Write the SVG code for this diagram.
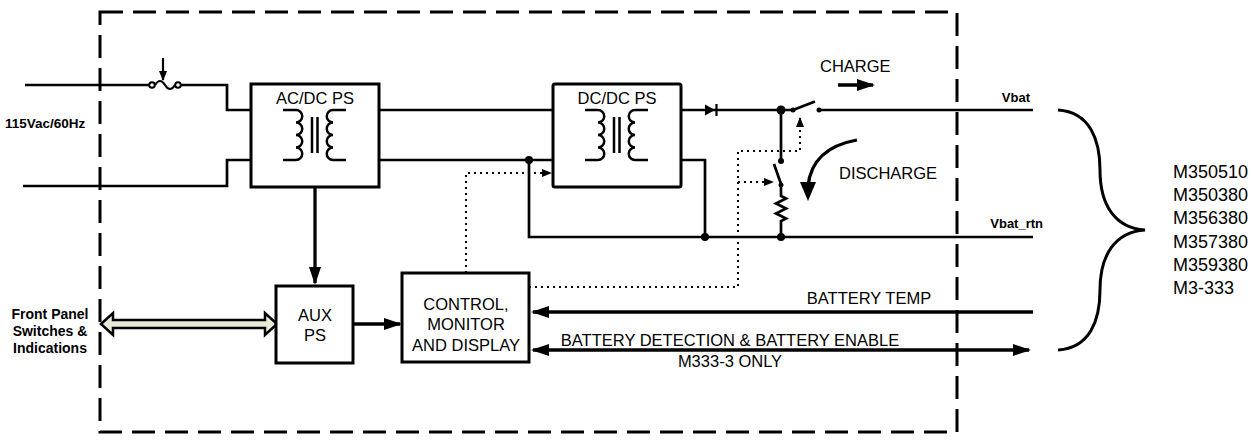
<svg xmlns="http://www.w3.org/2000/svg" width="1251" height="440" viewBox="0 0 1251 440">
<defs>
<style>
text{font-family:"Liberation Sans",Arial,sans-serif;fill:#000}
.t{font-size:16.5px}
.c{text-anchor:middle}
.b{font-weight:bold;font-size:13.5px}
.w{fill:none;stroke:#000;stroke-width:2.7}
.box{fill:#fff;stroke:#000;stroke-width:3}
.dt{fill:none;stroke:#000;stroke-width:2;stroke-dasharray:2 4}
.ar{fill:none;stroke:#000;stroke-width:3.3}
.jn{fill:#000}
.ct{fill:#fff;stroke:#000;stroke-width:2}
</style>
<marker id="ah" viewBox="0 0 18 12" refX="16" refY="6" markerWidth="18" markerHeight="12" markerUnits="userSpaceOnUse" orient="auto-start-reverse"><path d="M0,0 L18,6 L0,12 z"/></marker>
<marker id="sh" viewBox="0 0 10 8" refX="9" refY="4" markerWidth="10" markerHeight="8" markerUnits="userSpaceOnUse" orient="auto"><path d="M0,0 L10,4 L0,8 z"/></marker>
<g id="xf" fill="none" stroke="#000" stroke-width="2.5">
<path d="M283,110 H296 a6.25,6.25 0 0 1 0,12.5 a6.25,6.25 0 0 1 0,12.5 a6.25,6.25 0 0 1 0,12.5 a6.25,6.25 0 0 1 0,12.5 H283"/>
<path d="M312,117 V153 M317.5,117 V153"/>
<path d="M346,110 H333 a6.25,6.25 0 0 0 0,12.5 a6.25,6.25 0 0 0 0,12.5 a6.25,6.25 0 0 0 0,12.5 a6.25,6.25 0 0 0 0,12.5 H346"/>
</g>
</defs>
<rect width="1251" height="440" fill="#fff"/>

<g id="frame">
<rect x="100" y="12" width="857" height="420" fill="none" stroke="#000" stroke-width="3" stroke-dasharray="23 10"/>
</g>

<g id="connectors">
<path class="w" d="M25,85 H149.5 M180.5,85 H227 V110 H251"/>
<path class="w" d="M23,186 H227 V160 H251"/>
<path class="w" d="M379,110 H553 M379,160 H553"/>
<path class="w" d="M529,160 V237 H1033"/>
<path class="w" d="M681,110 H717 M717,110 H793 M819,110 H1033"/>
<path class="w" d="M681,160 H705 V237"/>
<path class="w" d="M781,110 V161"/>
<path class="w" d="M774,164 L781,184 M781,185 V196 l5,2.5 l-10,5 l10,5 l-10,5 l10,5 l-5,2.5 V237"/>
<path class="w" d="M793,110 L815,101.5"/>
<path class="ar" d="M315,187 V283" marker-end="url(#ah)"/>
<path class="ar" d="M333,324 H400" marker-end="url(#ah)"/>
<path class="ar" d="M1033,312 H533" marker-end="url(#ah)"/>
<path class="ar" d="M533,350 H1029" marker-start="url(#ah)" marker-end="url(#ah)"/>
<polygon points="101,324 113,313 113,320 265,320 265,313 277,324 265,335 265,328 113,328 113,335" fill="#e8e8d6" stroke="#000" stroke-width="2.5" stroke-linejoin="miter"/>
<path class="dt" d="M466,273 V173 H551" marker-end="url(#sh)"/>
<path class="dt" d="M529,287 H738 V151 H800 V118" marker-end="url(#sh)"/>
<path class="dt" d="M738,182 H773" marker-end="url(#sh)"/>
<path class="ar" d="M838,85 H873" marker-end="url(#ah)"/>
<path class="ar" d="M857,140 Q812,148 808,186"/>
<polygon points="800,182 816,182 808,201"/>
<path fill="none" stroke="#000" stroke-width="3" d="M1058,110 C1090,112 1100,140 1100,170 C1100,205 1115,228 1145,230 C1115,232 1100,255 1100,290 C1100,320 1090,348 1058,350"/>
<path fill="none" stroke="#000" stroke-width="2.2" d="M163,58 V80" marker-end="url(#sh)"/>
<g id="fuse">
<circle class="ct" cx="152" cy="85" r="2.8"/>
<circle class="ct" cx="178" cy="85" r="2.8"/>
<path fill="none" stroke="#000" stroke-width="2.2" d="M155,85 Q160,77 165,85 T175,85"/>
</g>
<g id="diode"><polygon points="705,104.5 715,110 705,115.5"/><path d="M716.5,104 V116" stroke="#000" stroke-width="2.2"/></g>
<circle class="jn" cx="529" cy="160" r="4"/>
<circle class="jn" cx="781" cy="110" r="4.5"/>
<circle class="jn" cx="781" cy="161" r="3"/>
<circle class="jn" cx="781" cy="185" r="2.5"/>
<circle class="jn" cx="705" cy="237" r="4"/>
<circle class="jn" cx="781" cy="237" r="4"/>
<circle class="jn" cx="793" cy="110" r="2.5"/>
<circle class="jn" cx="819" cy="110" r="2.5"/>
</g>

<g id="acdc">
<rect class="box" x="251" y="84" width="128" height="103"/>
<text class="t c" x="315" y="104">AC/DC PS</text>
<use href="#xf"/>
</g>

<g id="dcdc">
<rect class="box" x="553" y="84" width="128" height="103" rx="2" stroke-width="3.5"/>
<text class="t c" x="617" y="104">DC/DC PS</text>
<use href="#xf" x="302"/>
</g>

<g id="aux">
<rect class="box" x="276" y="286" width="77" height="77" fill="none"/>
<text class="t c" x="315" y="321">AUX</text>
<text class="t c" x="315" y="341">PS</text>
</g>

<g id="control">
<rect class="box" x="402" y="273" width="127" height="89"/>
<text class="t c" x="466" y="310">CONTROL,</text>
<text class="t c" x="466" y="330">MONITOR</text>
<text class="t c" x="466" y="351">AND DISPLAY</text>
</g>

<g id="labels">
<text class="b" x="5" y="128">115Vac/60Hz</text>
<text class="b c" x="50" y="319" style="font-size:14px">Front Panel</text>
<text class="b c" x="50" y="336" style="font-size:14px">Switches &amp;</text>
<text class="b c" x="50" y="353" style="font-size:14px">Indications</text>
<text class="t" x="820" y="72">CHARGE</text>
<text class="t" x="839" y="179">DISCHARGE</text>
<text class="b" x="1030" y="102" text-anchor="end" style="font-size:13px">Vbat</text>
<text class="b" x="1043" y="228" text-anchor="end" style="font-size:13px">Vbat_rtn</text>
<text class="t c" x="869" y="304">BATTERY TEMP</text>
<text class="t c" x="730" y="346">BATTERY DETECTION &amp; BATTERY ENABLE</text>
<text class="t c" x="730" y="367">M333-3 ONLY</text>
</g>

<g id="models" style="font-size:18px">
<text x="1173" y="178">M350510</text>
<text x="1173" y="201">M350380</text>
<text x="1173" y="224">M356380</text>
<text x="1173" y="248">M357380</text>
<text x="1173" y="271">M359380</text>
<text x="1173" y="294">M3-333</text>
</g>
</svg>
